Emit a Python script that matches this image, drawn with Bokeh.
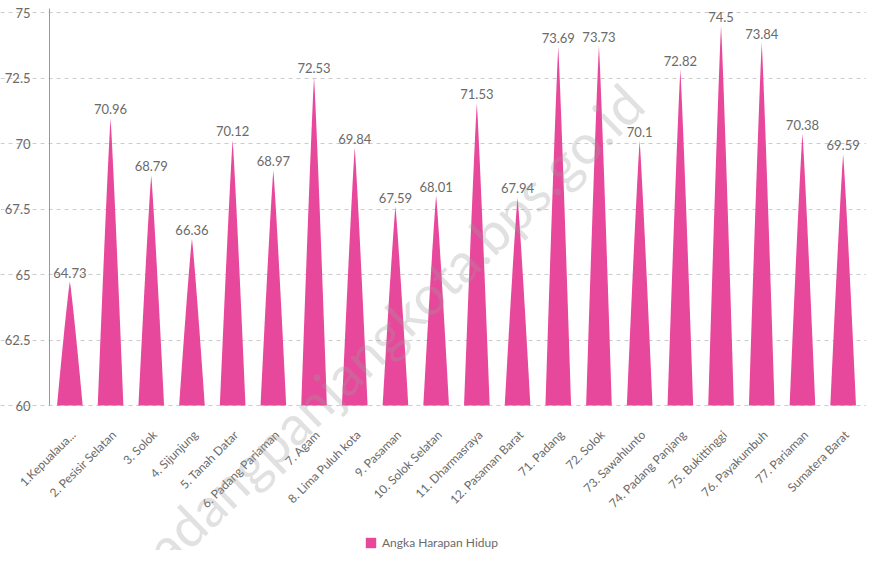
import math
import numpy as np
from bokeh.plotting import figure
from bokeh.models import Range1d, FixedTicker, Legend, LegendItem, Label, ColumnDataSource
from bokeh.core.properties import value
from bokeh.embed import file_html
from bokeh.resources import INLINE

regions = ["1.Kepualaua...", "2. Pesisir Selatan", "3. Solok", "4. Sijunjung",
           "5. Tanah Datar", "6. Padang Pariaman", "7. Agam", "8. Lima Puluh kota",
           "9. Pasaman", "10. Solok Selatan", "11. Dharmasraya", "12. Pasaman Barat",
           "71. Padang", "72. Solok", "73. Sawahlunto", "74. Padang Panjang",
           "75. Bukittinggi", "76. Payakumbuh", "77. Pariaman", "Sumatera Barat"]
ahh = [64.73, 70.96, 68.79, 66.36, 70.12, 68.97, 72.53, 69.84, 67.59, 68.01,
       71.53, 67.94, 73.69, 73.73, 70.1, 72.82, 74.5, 73.84, 70.38, 69.59]
y_ticks = [60, 62.5, 65, 67.5, 70, 72.5, 75]
y_tick_labels = ["60", "62.5", "65", "67.5", "70", "72.5", "75"]
series_name = "Angka Harapan Hidup"
watermark = "padangpanjangkota.bps.go.id"

PINK = "#E8489B"
TXT = "#6a6a6a"
FONT = "Lato"
BASE = 60.0

W, H = 866, 550
CAT_PX = 40.7            # pixels per category
X0 = -49 / CAT_PX        # category 0 starts 49px from the left
Y_PX = 26.2              # pixels per year of life expectancy
Y1 = 75 + 12 / Y_PX
Y0 = Y1 - H / Y_PX

p = figure(width=W, height=H, output_backend="svg", toolbar_location=None,
           x_range=Range1d(X0, X0 + W / CAT_PX), y_range=Range1d(Y0, Y1),
           min_border_left=0, min_border_right=0, min_border_top=0,
           min_border_bottom=0)
p.outline_line_color = None
p.background_fill_color = "white"

# spike shapes
hw = 0.315
f = np.linspace(0, 1, 30)
xs, ys = [], []
for i, v in enumerate(ahh):
    c = i + 0.5
    w = hw * (1 - f) ** 0.9
    yy = BASE + (v - BASE) * f
    xs.append(list(c - w) + list((c + w)[::-1]))
    ys.append(list(yy) + list(yy[::-1]))
r = p.patches(xs, ys, fill_color=PINK, line_color=None)

# value labels
src = ColumnDataSource(dict(x=[i + 0.5 for i in range(len(ahh))], y=ahh,
                            t=[str(v) for v in ahh]))
p.text(x="x", y="y", text="t", source=src, text_align="center", text_baseline="bottom",
       y_offset=-4, text_font=value(FONT), text_font_size="13px", text_color=TXT)

# x axis drawn at y=60 inside the frame
lab_shift = 0.085
p.xaxis.fixed_location = BASE
p.xaxis.ticker = FixedTicker(ticks=[i + 0.5 + lab_shift for i in range(len(regions))])
p.xaxis.major_label_overrides = {i + 0.5 + lab_shift: n for i, n in enumerate(regions)}
p.xaxis.major_label_orientation = math.pi / 4
p.xaxis.axis_line_color = None
p.xaxis.major_tick_line_color = None
p.xaxis.minor_tick_line_color = None
p.xaxis.major_label_text_font = FONT
p.xaxis.major_label_text_font_size = "12px"
p.xaxis.major_label_text_color = TXT
p.xaxis.major_label_standoff = 21

# y axis drawn at x=0 inside the frame
p.yaxis.fixed_location = 0
p.yaxis.ticker = FixedTicker(ticks=y_ticks)
p.yaxis.bounds = (BASE, 75.15)
p.yaxis.major_label_overrides = {t: l for t, l in zip(y_ticks, y_tick_labels)}
p.yaxis.axis_line_color = "#999999"
p.yaxis.major_tick_line_color = None
p.yaxis.minor_tick_line_color = None
p.yaxis.major_label_text_font = FONT
p.yaxis.major_label_text_font_size = "13px"
p.yaxis.major_label_text_color = TXT
p.yaxis.major_label_standoff = 13

p.xgrid.visible = False
p.ygrid.grid_line_color = "#cccccc"
p.ygrid.grid_line_dash = "4 4"
p.ygrid.bounds = (0, len(regions))

# watermark
p.add_layout(Label(x=8.2, y=62.67, text=watermark, angle=44, angle_units="deg",
                   text_align="center", text_baseline="middle",
                   text_font=FONT, text_font_size="55px", text_color="#9a9a9a",
                   text_alpha=0.3))

legend = Legend(items=[LegendItem(label=series_name, renderers=[r])],
                location=(364, 0), orientation="horizontal",
                border_line_color=None, background_fill_alpha=0,
                label_text_font=FONT, label_text_font_size="12px",
                label_text_color=TXT, glyph_width=13, glyph_height=13,
                padding=2, margin=0)
p.add_layout(legend, "center")

open("out.html", "w").write(file_html(p, INLINE))
